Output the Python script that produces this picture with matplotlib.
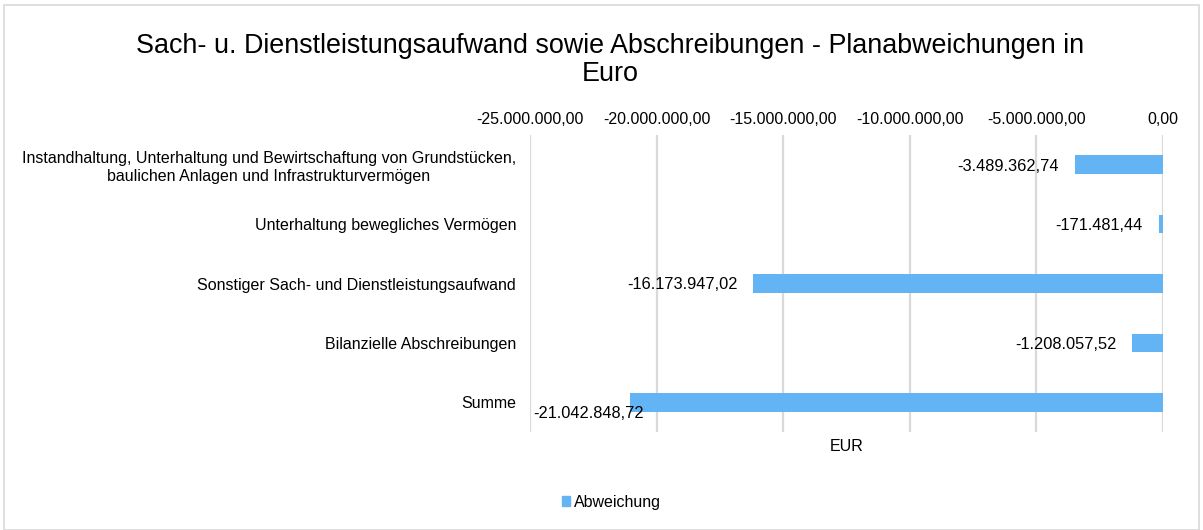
import matplotlib
matplotlib.use('Agg')
import matplotlib.pyplot as plt
from matplotlib.patches import Rectangle, Patch

plt.rcParams['font.family'] = ['Liberation Sans', 'DejaVu Sans']

categories = [
    "Instandhaltung, Unterhaltung und Bewirtschaftung von Grundstücken,\nbaulichen Anlagen und Infrastrukturvermögen",
    "Unterhaltung bewegliches Vermögen",
    "Sonstiger Sach- und Dienstleistungsaufwand",
    "Bilanzielle Abschreibungen",
    "Summe",
]
values = [-3489362.74, -171481.44, -16173947.02, -1208057.52, -21042848.72]
ticks = [-25000000, -20000000, -15000000, -10000000, -5000000, 0]


def de_format(v):
    s = f"{v:,.2f}"
    return s.replace(",", "X").replace(".", ",").replace("X", ".")


bar_color = '#63b4f4'
grid_color = '#d9d9d9'

fig = plt.figure(figsize=(12.03, 5.3), dpi=100)
ax = fig.add_axes([530 / 1203, 1 - 432 / 530, (1163 - 530) / 1203, (432 - 135) / 530])

# light frame round the chart
fig.patches.append(Rectangle((4 / 1203, 0.0), 1 - 8 / 1203, 1 - 5 / 530,
                             transform=fig.transFigure, fill=False,
                             edgecolor='#d9d9d9', linewidth=1.2))

ypos = list(range(len(categories)))
ax.barh(ypos, values, height=0.31, color=bar_color, zorder=3)

ax.set_xlim(ticks[0], ticks[-1])
ax.set_ylim(len(categories) - 0.5, -0.5)
ax.set_xticks(ticks)
ax.set_xticklabels([de_format(t) for t in ticks], fontsize=11.5)
ax.xaxis.tick_top()
ax.tick_params(axis='x', length=0, pad=6)
ax.set_yticks(ypos)
ax.set_yticklabels(categories, fontsize=11.5, multialignment='center')
ax.tick_params(axis='y', length=0, pad=10)

ax.grid(axis='x', color=grid_color, linewidth=1.6, zorder=0)
for s in ax.spines.values():
    s.set_visible(False)

# data labels
for i, v in enumerate(values):
    if i == len(values) - 1:
        ax.annotate(de_format(v), (ticks[0], i), xytext=(2, -3),
                    textcoords='offset points', ha='left', va='top', fontsize=11.8)
    else:
        ax.annotate(de_format(v), (v, i), xytext=(-11.5, -1),
                    textcoords='offset points', ha='right', va='center', fontsize=11.8)

ax.set_xlabel('EUR', fontsize=11.5)
ax.xaxis.set_label_coords(0.5, -0.025)

fig.text(0.507, 1 - 60 / 530,
         'Sach- u. Dienstleistungsaufwand sowie Abschreibungen - Planabweichungen in\nEuro',
         ha='center', va='center', fontsize=19.4, linespacing=1.1)

fig.legend(handles=[Patch(color=bar_color, label='Abweichung')],
           loc='center', bbox_to_anchor=(611 / 1203, 1 - 502 / 530),
           frameon=False, fontsize=11.5, handlelength=0.55, handleheight=0.55,
           handletextpad=0.2)

fig.savefig('out.png', dpi=100)
